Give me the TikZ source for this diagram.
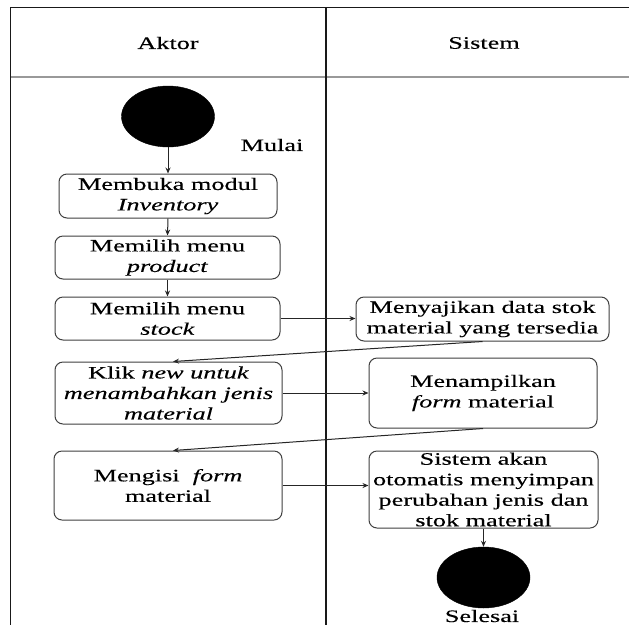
\documentclass[tikz,border=0pt]{standalone}
\usepackage{fontspec}
\setmainfont[FakeStretch=1.5,FakeBold=0.2]{Liberation Serif}
\usetikzlibrary{shapes.geometric,arrows.meta}
\begin{document}
\begin{tikzpicture}[x=1pt,y=-1pt,
  every node/.style={font=\fontsize{17.5}{20.5}\selectfont, text=black},
  act/.style={draw=black!75, line width=1pt, rounded corners=8pt, align=center, inner sep=0pt},
  term/.style={ellipse, fill=black, draw=black, minimum width=93pt, minimum height=61pt, inner sep=0pt},
  flow/.style={draw=black!85, line width=1pt, -{Stealth[length=6pt,width=5pt]}},
  lane/.style={draw=black!90, line width=1.4pt},
  headline/.style={draw=black!40, line width=2pt}]
\useasboundingbox (0,0) rectangle (629,625);
\fill[white] (0,0) rectangle (629,625);

% swimlane frame
\draw[headline] (10,77.3) -- (629,77.3);
\draw[lane] (629,7.3) -- (10.3,7.3) -- (10.3,625);
\draw[lane] (326,7.3) -- (326,625);
\node (aktor) at (168,43) {Aktor};
\node (sistem) at (484,43) {Sistem};

% actor lane
\node[term] (start) at (168,116.5) {};
\node (mulai) at (272,145) {Mulai};
\node[act, minimum width=218pt, minimum height=44pt] (b1) at (168,196) {Membuka modul\\\textit{Inventory}};
\node[act, minimum width=225pt, minimum height=43pt] (b2) at (167.5,257.5) {Memilih menu\\\textit{product}};
\node[act, minimum width=225pt, minimum height=43pt] (b3) at (167.5,318.5) {Memilih menu\\\textit{stock}};
\node[act, minimum width=227pt, minimum height=62pt] (b4) at (168.5,393) {Klik \textit{new untuk}\\\textit{menambahkan jenis}\\\textit{material}};
\node[act, minimum width=228pt, minimum height=69pt] (b5) at (168,485.5) {Mengisi \ \textit{form}\\material};

% system lane
\node[act, minimum width=253pt, minimum height=44pt] (s1) at (482.5,319) {Menyajikan data stok\\material yang tersedia};
\node[act, minimum width=228pt, minimum height=70pt] (s2) at (483,393) {Menampilkan\\\textit{form} material};
\node[act, minimum width=229pt, minimum height=77pt] (s3) at (483.5,489.5) {Sistem akan\\otomatis menyimpan\\perubahan jenis dan\\stok material};
\node[term] (end) at (483.5,577.5) {};
\node (selesai) at (482,616) {Selesai};

% control flow
\draw[flow] (start.south) -- (b1.north);
\draw[flow] (b1.south) -- (b2.north);
\draw[flow] (b2.south) -- (b3.north);
\draw[flow] (b3.east) -- (b3.east -| s1.west);
\draw[flow] (s1.south) -- ([xshift=4.5pt]b4.north);
\draw[flow] (b4.east) -- (b4.east -| s2.west);
\draw[flow] (s2.south) -- ([xshift=5pt]b5.north);
\draw[flow] (b5.east) -- (b5.east -| s3.west);
\draw[flow] (s3.south) -- (end.north);
\end{tikzpicture}
\end{document}
